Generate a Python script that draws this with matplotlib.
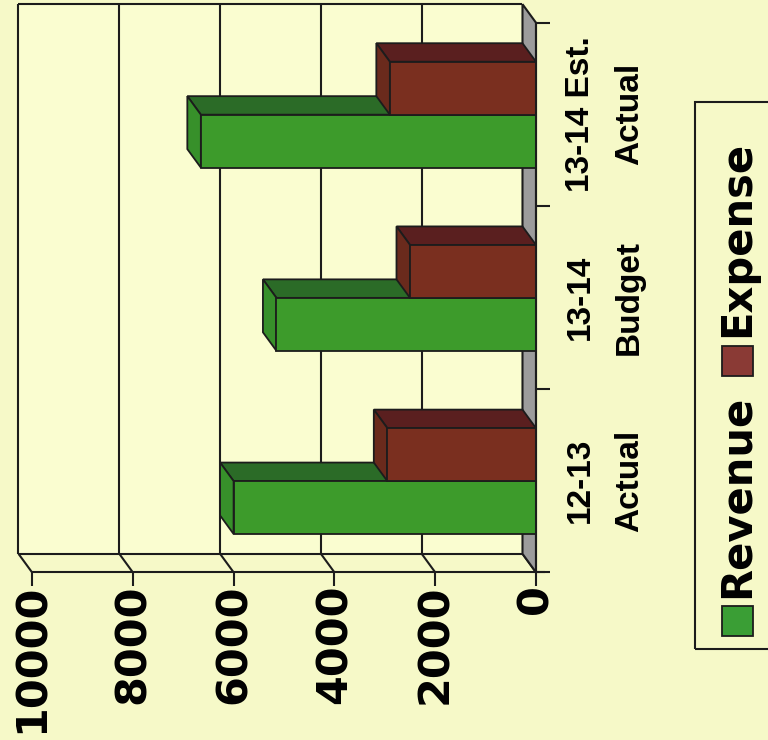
import matplotlib
matplotlib.use("Agg")
import matplotlib.pyplot as plt
from matplotlib.patches import Polygon, Rectangle
from matplotlib import transforms

# ---- data -------------------------------------------------------------
categories = ["12-13\nActual", "13-14\nBudget", "13-14 Est.\nActual"]
series_names = ["Revenue", "Expense"]
revenue = [6000, 5150, 6650]
expense = [2950, 2500, 2900]
value_ticks = [0, 2000, 4000, 6000, 8000, 10000]

# ---- style ------------------------------------------------------------
BG = "#f6f9c8"
WALL = "#fafdd0"
EDGE = "#1c1c1c"
FACES = {
    "Revenue": dict(front="#3d9b2b", top="#2b6b27", end="#37902a", key="#3a9e35"),
    "Expense": dict(front="#7a2f1f", top="#5a1f1f", end="#6a2a1c", key="#8a3a35"),
}
TICK_FONT = dict(family="DejaVu Sans", weight="bold", size=31)
CAT_FONT = dict(family="Liberation Sans", weight="bold", size=24)
LEG_FONT = dict(family="DejaVu Sans", weight="bold", size=30)

# depth of the 3-D box: horizontal shift in value units, vertical in category units
DX = 268
DY = 0.101
BAR_H = 0.289
BAR_START = 0.209
VMAX = value_ticks[-1]
NCAT = len(categories)

fig = plt.figure(figsize=(7.68, 7.40), dpi=100, facecolor=BG)
ax = fig.add_axes([32 / 768, (740 - 572.3) / 740, 504 / 768, 549.6 / 740])
ax.set_xlim(VMAX, 0)
ax.set_ylim(0, NCAT)
ax.patch.set_visible(False)
for side in ("top", "left", "bottom"):
    ax.spines[side].set_visible(False)
ax.spines["right"].set_color(EDGE)
ax.spines["right"].set_linewidth(1.5)
ax.spines["right"].set_zorder(6)

line_kw = dict(color=EDGE, lw=1.5, clip_on=False, solid_capstyle="butt")

# back wall with gridlines
ax.add_patch(Rectangle((DX, DY), VMAX, NCAT, facecolor=WALL, edgecolor="none",
                       clip_on=False, zorder=0))
ax.plot([DX, VMAX + DX], [NCAT + DY, NCAT + DY], zorder=1, **line_kw)
ax.plot([DX, VMAX + DX], [DY, DY], zorder=1, **line_kw)
for v in value_ticks[1:]:
    ax.plot([v + DX, v + DX], [DY, NCAT + DY], zorder=1, **line_kw)
# side wall: gridlines running from the back to the front edge
for v in value_ticks:
    ax.plot([v + DX, v], [DY, 0], zorder=1, **line_kw)
# front edge of the category axis
ax.plot([VMAX, -180], [0, 0], zorder=6, **line_kw)

# grey base plane at value 0
ax.add_patch(Polygon([(DX, DY), (DX, NCAT + DY), (0, NCAT), (0, 0)], closed=True,
                     facecolor="#9c9c9c", edgecolor=EDGE, lw=1.5, clip_on=False,
                     zorder=2))

# 3-D bars
for i in range(NCAT):
    for k, (name, vals) in enumerate(zip(series_names, [revenue, expense])):
        c = FACES[name]
        v = vals[i]
        y0 = i + BAR_START + k * BAR_H
        y1 = y0 + BAR_H
        top = [(0, y1), (v, y1), (v + DX, y1 + DY), (DX, y1 + DY)]
        end = [(v, y0), (v, y1), (v + DX, y1 + DY), (v + DX, y0 + DY)]
        z = 3 + 0.1 * k
        ax.add_patch(Polygon(top, closed=True, facecolor=c["top"], edgecolor=EDGE,
                             lw=1.3, zorder=z, clip_on=False))
        ax.add_patch(Polygon(end, closed=True, facecolor=c["end"], edgecolor=EDGE,
                             lw=1.3, zorder=z, clip_on=False))
        ax.add_patch(Rectangle((0, y0), v, BAR_H, facecolor=c["front"],
                               edgecolor=EDGE, lw=1.3, zorder=z + 0.05,
                               clip_on=False))

# value axis ticks
ax.set_xticks(value_ticks)
ax.set_xticklabels([str(v) for v in value_ticks], rotation=90, **TICK_FONT)
ax.tick_params(axis="x", direction="out", length=10, width=1.5, color=EDGE,
               pad=-1.5, bottom=True, labelbottom=True)
for lab in ax.get_xticklabels():
    lab.set_verticalalignment("top")
    lab.set_horizontalalignment("center")

# category axis ticks on the right
ax.yaxis.tick_right()
ax.set_yticks(range(NCAT + 1))
ax.set_yticklabels([])
ax.tick_params(axis="y", direction="out", length=10, width=1.5, color=EDGE)

trans = transforms.blended_transform_factory(ax.transAxes, ax.transData)
for i, lab in enumerate(categories):
    ax.text(1.0575, i + 0.5, lab, transform=trans, rotation=90, ha="left",
            va="center", multialignment="center", linespacing=1.75,
            color="black", **CAT_FONT)

# legend, drawn sideways like the rest of the chart
fig.patches.append(Rectangle((695 / 768, (740 - 649) / 740), 0.2,
                             (649 - 101.7) / 740, transform=fig.transFigure,
                             facecolor="none", edgecolor=EDGE, lw=1.5))
key_x = 721.7 / 768
key_w = 31 / 768
key_h = 30 / 740
key_bottoms = [(740 - 635.7) / 740, (740 - 376) / 740]
text_bottoms = [(740 - 598) / 740, (740 - 337) / 740]
for name, kb, tb in zip(series_names, key_bottoms, text_bottoms):
    fig.patches.append(Rectangle((key_x, kb), key_w, key_h,
                                 transform=fig.transFigure,
                                 facecolor=FACES[name]["key"], edgecolor=EDGE,
                                 lw=1.3))
    fig.text(737 / 768, tb, name, rotation=90, ha="center", va="bottom",
             color="black", **LEG_FONT)

fig.savefig("out.png", dpi=100, facecolor=BG)
